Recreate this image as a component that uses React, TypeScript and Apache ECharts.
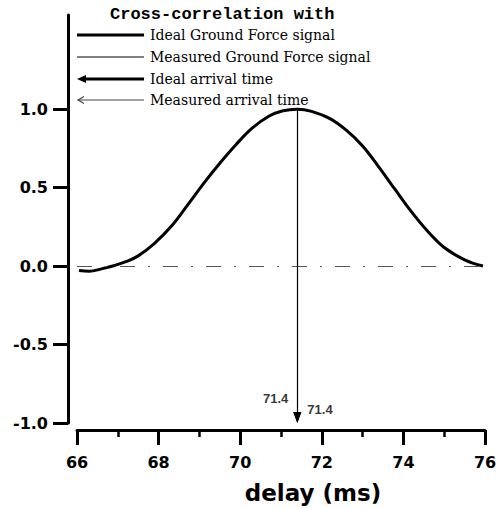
import React, { useEffect, useRef } from 'react';
import * as echarts from 'echarts';

const delayMs = [66.05, 66.3, 66.6, 66.9, 67.2, 67.5, 67.9, 68.3, 68.7, 69.1, 69.5, 69.9, 70.3, 70.7, 71.05, 71.4, 71.75, 72.2, 72.6, 73.0, 73.4, 73.8, 74.2, 74.6, 75.0, 75.5, 75.95];
const idealCorr = [-0.028, -0.033, -0.018, 0.002, 0.028, 0.065, 0.145, 0.25, 0.385, 0.525, 0.655, 0.775, 0.88, 0.955, 0.99, 1.0, 0.986, 0.94, 0.866, 0.765, 0.63, 0.487, 0.345, 0.22, 0.118, 0.04, 0.0];
const yTicks = [-1, -0.5, 0, 0.5, 1];
const arrivalIdeal = 71.4;
const arrivalMeasured = 71.4;
const arrivalPeak = 1.0;
const legendTitle = 'Cross-correlation with';
const legendItems = ['Ideal Ground Force signal', 'Measured Ground Force signal', 'Ideal arrival time', 'Measured arrival time'];
const xAxisTitle = 'delay (ms)';

export default function App() {
  const ref = useRef<HTMLDivElement>(null);
  useEffect(() => {
    if (!ref.current) return;
    const chart = echarts.init(ref.current, null, { renderer: 'svg' });
    const legendY = [35, 57, 79, 100];
    const graphic: any[] = [
      {
        type: 'text', left: 110, top: 6,
        style: { text: legendTitle, font: 'bold 17px "Liberation Mono"', fill: '#000' },
      },
      { type: 'line', shape: { x1: 77, y1: legendY[0], x2: 144, y2: legendY[0] }, style: { stroke: '#000', lineWidth: 3 } },
      { type: 'line', shape: { x1: 77, y1: legendY[1], x2: 144, y2: legendY[1] }, style: { stroke: '#000', lineWidth: 1 } },
      { type: 'line', shape: { x1: 83, y1: legendY[2], x2: 144, y2: legendY[2] }, style: { stroke: '#000', lineWidth: 3 } },
      { type: 'polygon', shape: { points: [[77, legendY[2]], [86, legendY[2] - 4], [86, legendY[2] + 4]] }, style: { fill: '#000' } },
      { type: 'line', shape: { x1: 78, y1: legendY[3], x2: 144, y2: legendY[3] }, style: { stroke: '#444', lineWidth: 1.2 } },
      { type: 'polyline', shape: { points: [[84, legendY[3] - 3.5], [78, legendY[3]], [84, legendY[3] + 3.5]] }, style: { stroke: '#444', lineWidth: 1.2, fill: null } },
      {
        type: 'text', x: 313, y: 493,
        style: { text: xAxisTitle, font: 'bold 23px "DejaVu Sans"', fill: '#000', align: 'center', verticalAlign: 'middle' },
      },
    ];
    legendItems.forEach((t, i) => {
      graphic.push({
        type: 'text', x: 150, y: legendY[i],
        style: { text: t, font: '14px "DejaVu Serif"', fill: '#000', verticalAlign: 'middle' },
      });
    });

    chart.setOption({
      animation: false,
      backgroundColor: '#fff',
      grid: { left: 77, right: 15, top: 15, bottom: 86 },
      xAxis: {
        type: 'value', min: 66, max: 76, interval: 2, offset: 7,
        axisLine: { onZero: false, lineStyle: { color: '#000', width: 3 } },
        axisTick: { length: 15, lineStyle: { color: '#000', width: 3 } },
        minorTick: { show: true, splitNumber: 2, length: 7, lineStyle: { color: '#000', width: 2.5 } },
        splitLine: { show: false },
        minorSplitLine: { show: false },
        axisLabel: { margin: 24, color: '#000', fontFamily: 'DejaVu Sans', fontWeight: 'bold', fontSize: 16 },
      },
      yAxis: {
        type: 'value', min: -1, max: 1.6, interval: 0.5, offset: 9,
        axisLine: { show: true, onZero: false, lineStyle: { color: '#000', width: 3 } },
        axisTick: { show: true, customValues: yTicks, length: 15, lineStyle: { color: '#000', width: 3 } },
        splitLine: { show: false },
        axisLabel: {
          customValues: yTicks, margin: 20, color: '#000', fontFamily: 'DejaVu Sans', fontWeight: 'bold', fontSize: 16,
          formatter: (v: number) => v.toFixed(1),
        },
      },
      graphic,
      series: [
        {
          type: 'line', name: legendItems[0],
          data: delayMs.map((x, i) => [x, idealCorr[i]]),
          smooth: 0.4, symbol: 'none',
          lineStyle: { color: '#000', width: 3 },
          markLine: {
            silent: true, symbol: 'none', label: { show: false },
            lineStyle: { color: '#555', width: 1.2, type: [15, 13, 2, 13] },
            data: [{ yAxis: 0 }],
          },
        },
        {
          type: 'line', name: legendItems[2], data: [], symbol: 'none',
          markLine: {
            silent: true, symbol: ['none', 'triangle'], symbolSize: [8, 11], label: { show: false },
            lineStyle: { color: '#000', width: 1.2, type: 'solid' },
            data: [[{ coord: [arrivalIdeal, arrivalPeak] }, { coord: [arrivalIdeal, -0.965] }]],
          },
        },
        {
          type: 'line', name: legendItems[3], data: [], symbol: 'none',
          markLine: {
            silent: true, symbol: ['none', 'triangle'], symbolSize: [8, 11], label: { show: false },
            lineStyle: { color: '#000', width: 1, type: 'solid' },
            data: [[{ coord: [arrivalMeasured, arrivalPeak] }, { coord: [arrivalMeasured, -0.965] }]],
          },
        },
        {
          type: 'scatter', symbolSize: 0, silent: true,
          data: [
            { value: [arrivalIdeal, -0.847], label: { show: true, position: 'left', distance: 9, color: '#000' } },
            { value: [arrivalMeasured, -0.917], label: { show: true, position: 'right', distance: 10, color: '#000' } },
          ],
          label: {
            formatter: (p: any) => p.value[0].toFixed(1),
            color: '#000', fontFamily: 'Liberation Sans', fontWeight: 'bold', fontSize: 13,
          },
        },
      ],
    });
    return () => chart.dispose();
  }, []);
  return <div ref={ref} style={{ position: 'absolute', left: 0, top: 0, width: 500, height: 509, background: '#fff' }} />;
}
